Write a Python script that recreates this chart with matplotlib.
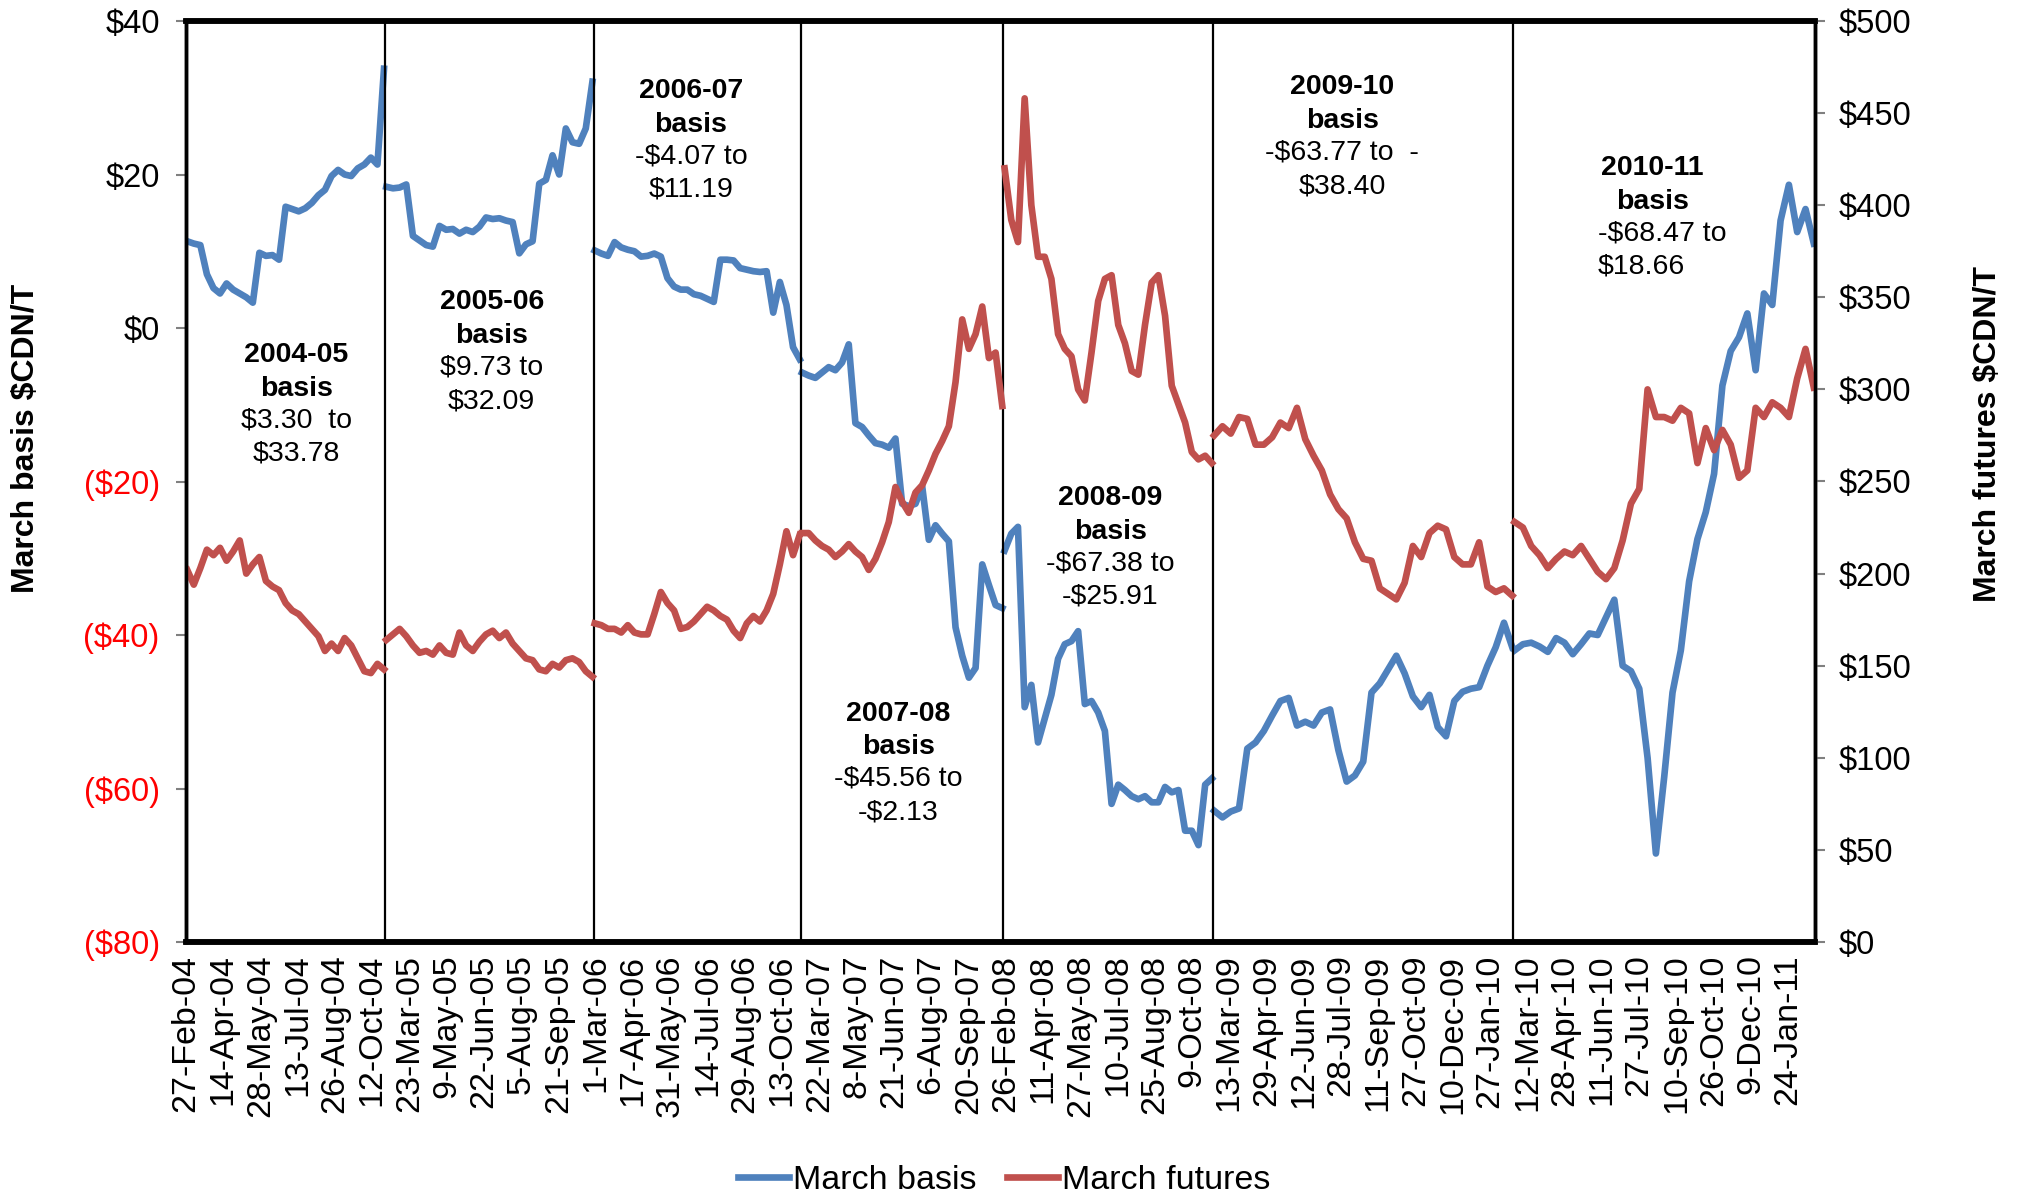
"""March canola basis vs March futures, 2004-05 to 2010-11 seasons."""

import numpy as np
import matplotlib
matplotlib.use('Agg')
import matplotlib.pyplot as plt

plt.rcParams['font.family'] = ['Liberation Sans', 'DejaVu Sans']
plt.rcParams['text.parse_math'] = False

#########################################################################################
# Data - one list per season (evenly spaced through each season)
#########################################################################################

seasons = ['2004-05', '2005-06', '2006-07', '2007-08', '2008-09', '2009-10', '2010-11']
season_days = [171, 179, 178, 174, 180, 258, 259]

basis_0405 = [11.3, 11.0, 10.8, 7.0, 5.2, 4.5, 5.8, 5.0, 4.5, 4.0, 3.3, 9.8, 9.4, 9.5, 8.9, 15.8,
              15.5, 15.2, 15.6, 16.3, 17.3, 18.0, 19.8, 20.6, 20.0, 19.8, 20.8, 21.3, 22.2, 21.3, 33.78]
basis_0506 = [18.4, 18.2, 18.3, 18.7, 12.0, 11.4, 10.8, 10.6, 13.3, 12.8, 12.9, 12.3, 12.8, 12.5, 13.2,
              14.4, 14.2, 14.3, 14.0, 13.8, 9.73, 10.9, 11.3, 18.8, 19.3, 22.5, 20.0, 26.0, 24.2, 24.0,
              26.0, 32.09]
basis_0607 = [10.1, 9.7, 9.4, 11.19, 10.5, 10.2, 10.0, 9.3, 9.4, 9.7, 9.3, 6.5, 5.4, 5.0, 5.0, 4.4,
              4.2, 3.8, 3.4, 8.9, 8.9, 8.8, 7.8, 7.6, 7.4, 7.3, 7.4, 2.0, 6.0, 3.0, -2.5, -4.07]
basis_0708 = [-5.8, -6.2, -6.5, -5.8, -5.1, -5.5, -4.5, -2.13, -12.4, -12.9, -14.0, -15.0, -15.2, -15.6,
              -14.4, -22.9, -23.2, -22.9, -20.6, -27.6, -25.7, -26.8, -27.8, -39.0, -42.7, -45.56,
              -44.3, -30.8, -33.5, -36.1, -36.5]
basis_0809 = [-29.0, -26.8, -25.91, -49.4, -46.5, -54.0, -50.9, -47.8, -43.1, -41.2, -40.8, -39.5,
              -49.0, -48.6, -50.1, -52.5, -62.0, -59.5, -60.2, -61.0, -61.4, -61.0, -61.8, -61.8,
              -59.8, -60.5, -60.2, -65.5, -65.5, -67.38, -59.5, -58.7]
basis_0910 = [-62.9, -63.77, -63.0, -62.6, -54.8, -54.0, -52.5, -50.5, -48.6, -48.2, -51.8, -51.3,
              -51.8, -50.1, -49.7, -55.0, -59.1, -58.3, -56.5, -47.5, -46.3, -44.5, -42.7, -45.0,
              -48.0, -49.4, -47.8, -52.0, -53.2, -48.6, -47.4, -47.0, -46.8, -44.0, -41.6, -38.4, -41.6]
basis_1011 = [-42.0, -41.2, -41.0, -41.5, -42.2, -40.4, -41.0, -42.5, -41.2, -39.8, -40.0, -37.7,
              -35.4, -44.0, -44.7, -47.0, -56.0, -68.47, -58.5, -47.5, -42.0, -33.0, -27.5, -24.0,
              -19.0, -7.5, -3.0, -1.2, 1.9, -5.5, 4.5, 3.0, 14.0, 18.66, 12.5, 15.5, 11.0]

futures_0405 = [202, 194, 203, 213, 210, 214, 207, 212, 218, 200, 205, 209, 196, 193, 191, 184,
                180, 178, 174, 170, 166, 158, 162, 158, 165, 161, 154, 147, 146, 151, 148]
futures_0506 = [164, 167, 170, 166, 161, 157, 158, 156, 161, 157, 156, 168, 161, 158, 163, 167,
                169, 165, 168, 162, 158, 154, 153, 148, 147, 151, 149, 153, 154, 152, 147, 144]
futures_0607 = [173, 172, 170, 170, 168, 172, 168, 167, 167, 178, 190, 184, 180, 170, 171, 174,
                178, 182, 180, 177, 175, 169, 165, 173, 177, 174, 180, 189, 205, 223, 210, 221]
futures_0708 = [222, 222, 218, 215, 213, 209, 212, 216, 212, 209, 202, 208, 217, 228, 247, 239,
                233, 244, 248, 256, 265, 272, 280, 304, 338, 322, 330, 345, 317, 320, 291]
futures_0809 = [420, 392, 380, 458, 400, 372, 372, 360, 330, 322, 318, 300, 294, 320, 348, 360,
                362, 335, 325, 310, 308, 335, 358, 362, 340, 302, 292, 282, 266, 262, 264, 260]
futures_0910 = [275, 280, 276, 285, 284, 270, 270, 274, 282, 279, 290, 273, 264, 256, 243, 235,
                230, 217, 208, 207, 192, 189, 186, 195, 215, 209, 222, 226, 224, 209, 205, 205,
                217, 193, 190, 192, 188]
futures_1011 = [228, 225, 215, 210, 203, 208, 212, 210, 215, 208, 201, 197, 203, 218, 238, 246,
                300, 285, 285, 283, 290, 287, 260, 279, 267, 278, 270, 252, 256, 290, 285, 293,
                290, 285, 306, 322, 301]

basis_ranges = ['$3.30  to\n$33.78', '$9.73 to\n$32.09', '-$4.07 to\n$11.19', '-$45.56 to\n-$2.13',
                '-$67.38 to\n-$25.91', '-$63.77 to  -\n$38.40', '-$68.47 to\n$18.66']

tick_labels = ['27-Feb-04', '14-Apr-04', '28-May-04', '13-Jul-04', '26-Aug-04', '12-Oct-04',
               '23-Mar-05', '9-May-05', '22-Jun-05', '5-Aug-05', '21-Sep-05', '1-Mar-06',
               '17-Apr-06', '31-May-06', '14-Jul-06', '29-Aug-06', '13-Oct-06', '22-Mar-07',
               '8-May-07', '21-Jun-07', '6-Aug-07', '20-Sep-07', '26-Feb-08', '11-Apr-08',
               '27-May-08', '10-Jul-08', '25-Aug-08', '9-Oct-08', '13-Mar-09', '29-Apr-09',
               '12-Jun-09', '28-Jul-09', '11-Sep-09', '27-Oct-09', '10-Dec-09', '27-Jan-10',
               '12-Mar-10', '28-Apr-10', '11-Jun-10', '27-Jul-10', '10-Sep-10', '26-Oct-10',
               '9-Dec-10', '24-Jan-11']
tick_every = 32

#########################################################################################
# Build the trading-day series, with a break between seasons
#########################################################################################

starts = np.concatenate([[0], np.cumsum(season_days)[:-1]])
n_total = int(np.sum(season_days))


def join_seasons(parts):
    xs, ys = [], []
    for s0, n_days, vals in zip(starts, season_days, parts):
        xs.append(s0 + np.linspace(1, n_days - 1, len(vals)))
        ys.append(np.asarray(vals, dtype=float))
        xs.append([np.nan])
        ys.append([np.nan])
    return np.concatenate(xs), np.concatenate(ys)


x_b, y_b = join_seasons([basis_0405, basis_0506, basis_0607, basis_0708,
                         basis_0809, basis_0910, basis_1011])
x_f, y_f = join_seasons([futures_0405, futures_0506, futures_0607, futures_0708,
                         futures_0809, futures_0910, futures_1011])

# Plot params
blue = '#4F81BD'
red = '#C0504D'
note_size = 20.5

# Initialize Plot
fig = plt.figure(figsize=(20.18, 12.0), dpi=100)
ax = fig.add_axes([0.0922, 0.215, 0.8072, 0.7675])
ax2 = ax.twinx()

line_b, = ax.plot(x_b, y_b, color=blue, lw=4.8, solid_joinstyle='round')
line_f, = ax2.plot(x_f, y_f, color=red, lw=4.8, solid_joinstyle='round')

# Season separators
for b in np.cumsum(season_days)[:-1]:
    ax2.axvline(b, color='black', lw=1.6, zorder=1)

ax.set_xlim(0, n_total)
ax.set_ylim(-80, 40)
ax2.set_ylim(0, 500)

# Left axis ticks - negatives in red brackets
left_vals = list(range(-80, 41, 20))
ax.set_yticks(left_vals)
ax.set_yticklabels(['${}'.format(v) if v >= 0 else '(${})'.format(-v) for v in left_vals])
for lab, v in zip(ax.get_yticklabels(), left_vals):
    lab.set_color('red' if v < 0 else 'black')

right_vals = list(range(0, 501, 50))
ax2.set_yticks(right_vals)
ax2.set_yticklabels(['${}'.format(v) for v in right_vals])

ax.set_xticks(np.arange(len(tick_labels)) * tick_every)
ax.set_xticklabels(tick_labels, rotation=90, ha='center', va='top')

ax.tick_params(axis='y', length=7, width=1.5, color='#808080', labelsize=23.5, pad=12)
ax2.tick_params(axis='y', length=7, width=1.5, color='#808080', labelsize=23.5, pad=10)
ax.tick_params(axis='x', length=0, labelsize=24.5, pad=9)

# Set plot lines
for a in (ax, ax2):
    for side in ('top', 'bottom'):
        a.spines[side].set_linewidth(4)
        a.spines[side].set_color('black')
    for side in ('left', 'right'):
        a.spines[side].set_linewidth(2.5)
        a.spines[side].set_color('black')

# Axis titles
fig.text(26 / 2018, 1 - 438 / 1200, 'March basis $CDN/T', rotation=90, ha='center', va='center',
         fontsize=23, fontweight='bold')
fig.text(1988 / 2018, 1 - 434 / 1200, 'March futures $CDN/T', rotation=90, ha='center',
         va='center', fontsize=23, fontweight='bold')

# Season annotations: [x index, basis value at the split between title and range]
label_pos = [(94.5, -9.8), (262.5, -2.9), (433.7, 24.6), (611.7, -56.5),
             (794, -28.4), (993, 25.1), (1259.5, 14.6)]
for i, (season, rng, (xp, yp)) in enumerate(zip(seasons, basis_ranges, label_pos)):
    ax.annotate(season + '\nbasis', (xp, yp), xytext=(0, 1), textcoords='offset points',
                ha='center', va='bottom', fontsize=note_size, fontweight='bold',
                multialignment='center', linespacing=1.38, zorder=5)
    if i == len(seasons) - 1:
        ax.annotate(rng, (1212.6, yp), xytext=(0, -3), textcoords='offset points',
                    ha='left', va='top', fontsize=note_size, multialignment='left',
                    linespacing=1.38, zorder=5)
    else:
        ax.annotate(rng, (xp, yp), xytext=(0, -3), textcoords='offset points',
                    ha='center', va='top', fontsize=note_size, multialignment='center',
                    linespacing=1.38, zorder=5)

# Legend
fig.legend([line_b, line_f], ['March basis', 'March futures'], loc='center',
           bbox_to_anchor=(0.4975, 0.0165), ncol=2, frameon=False, fontsize=24.5,
           handlelength=1.5, handletextpad=0.12, columnspacing=0.9)

fig.savefig('out.png', dpi=100)
